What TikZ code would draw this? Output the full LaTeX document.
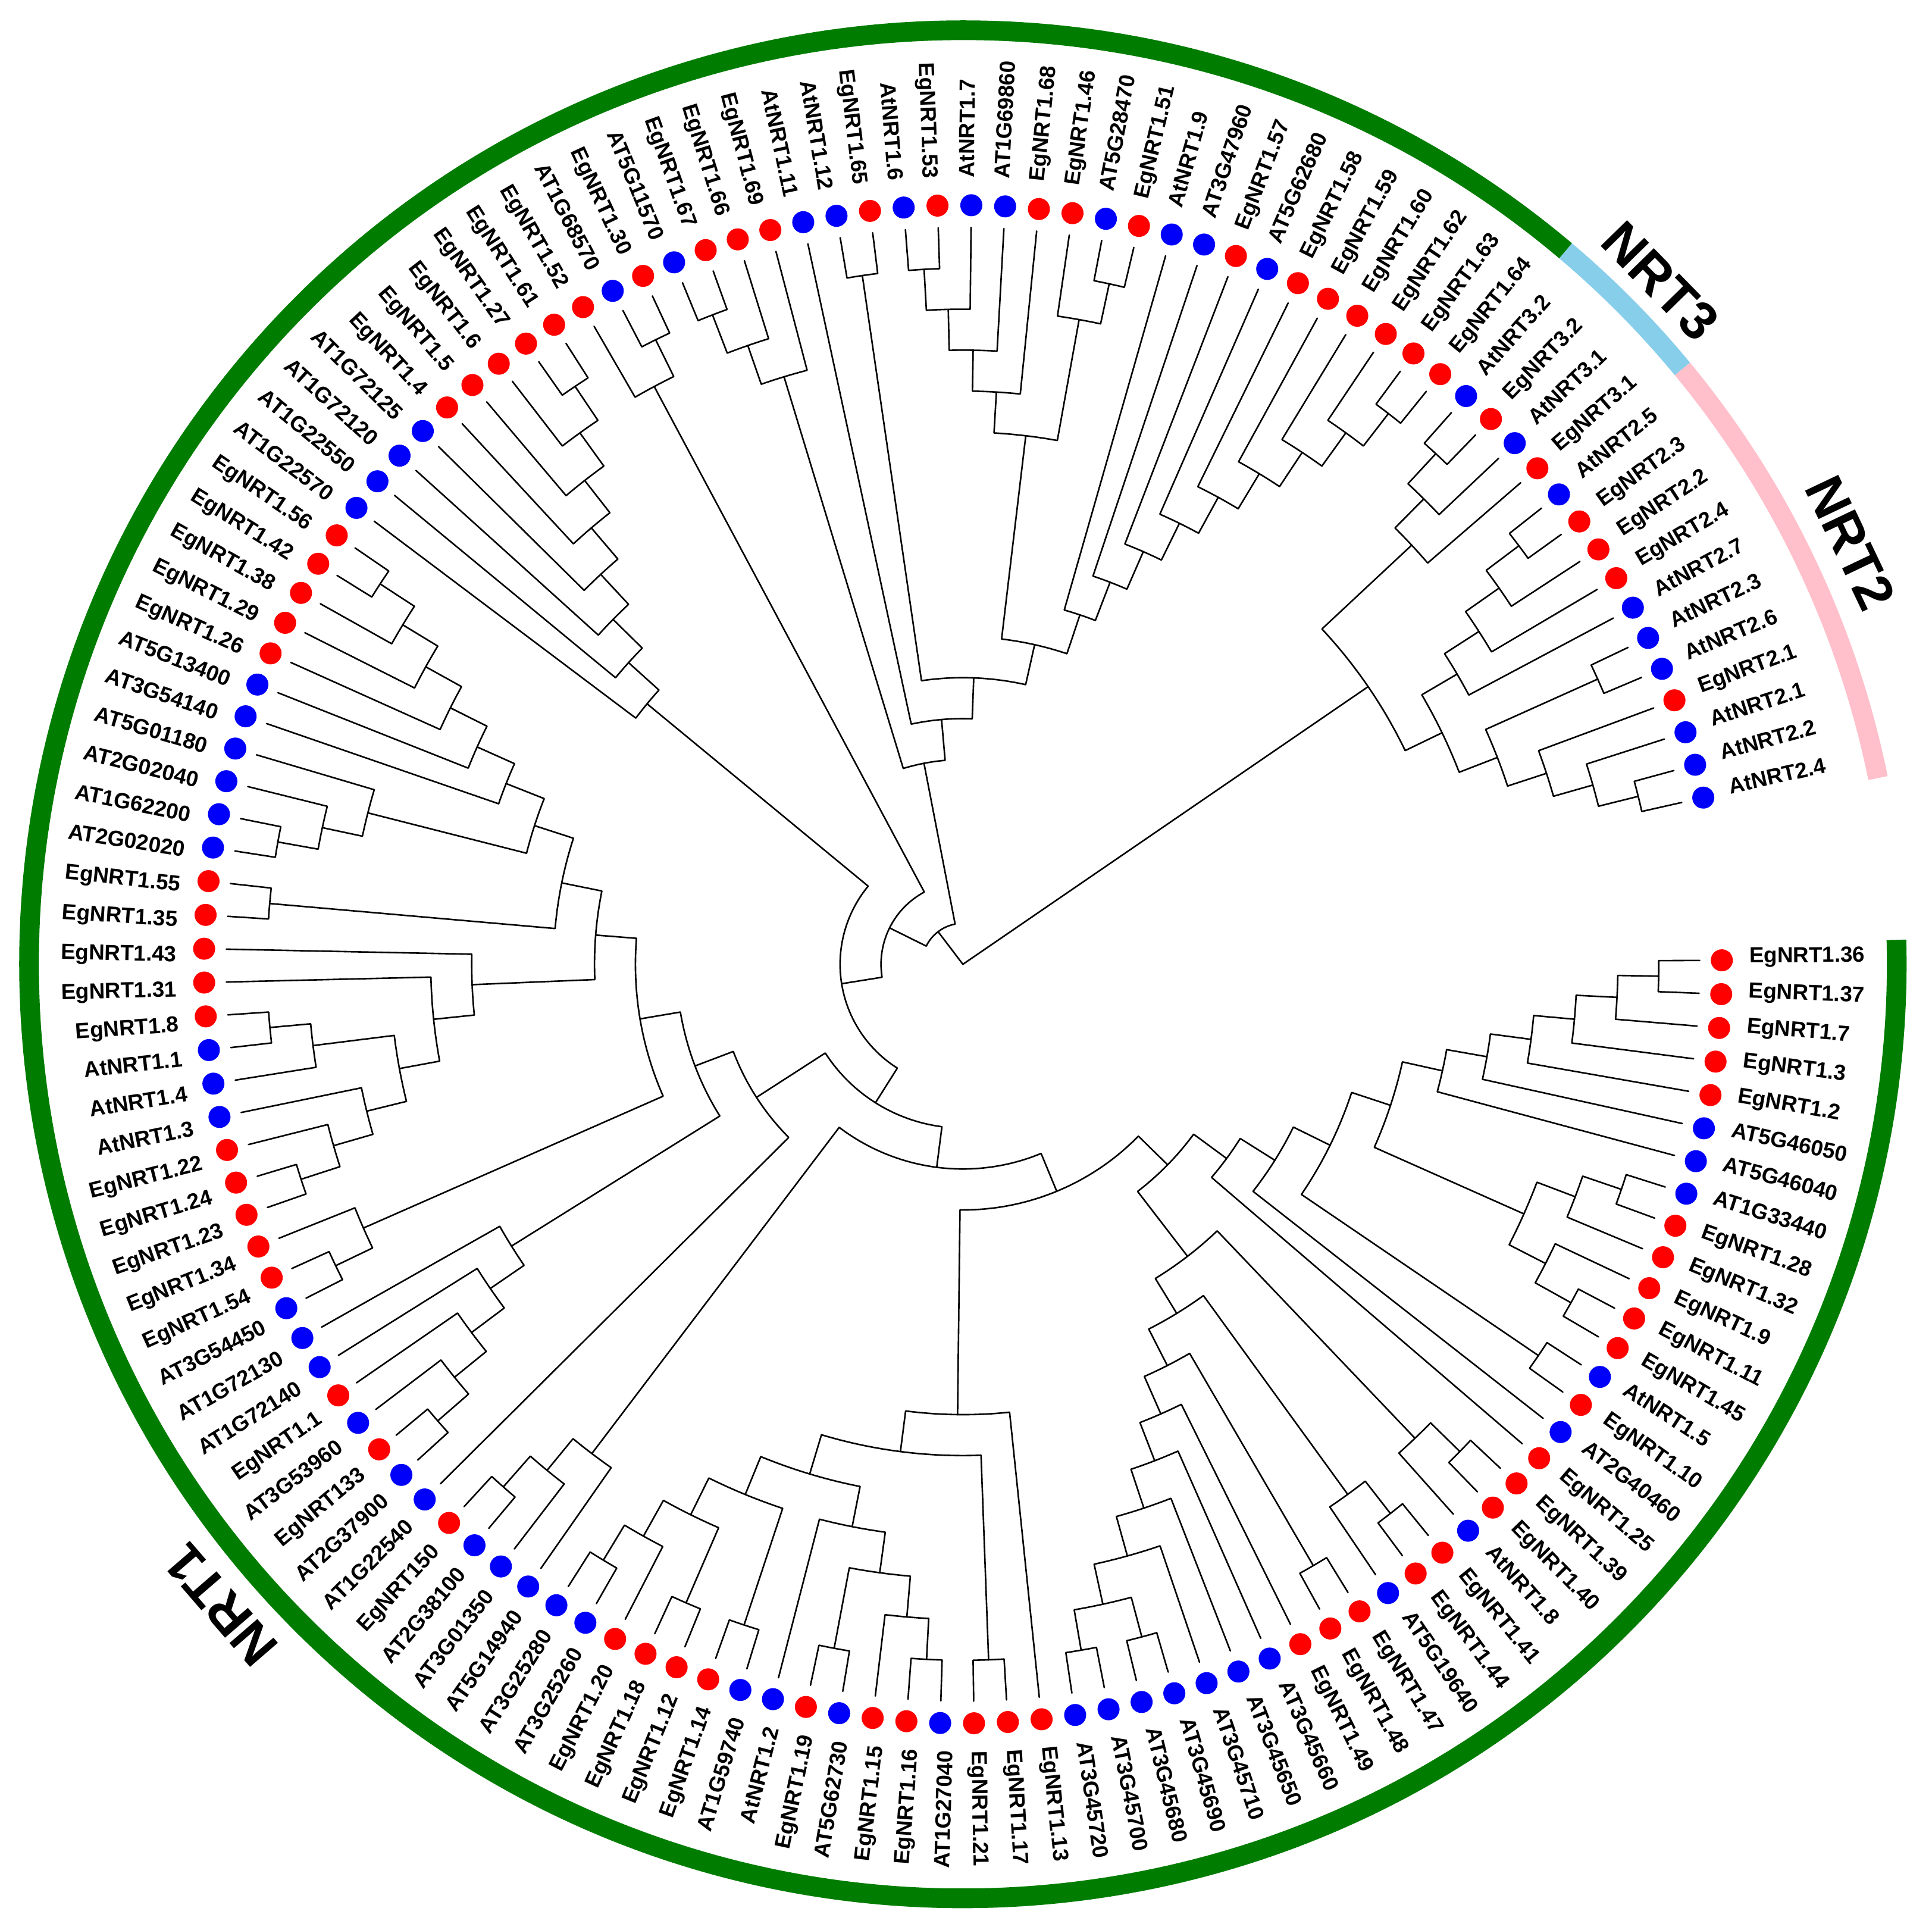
\documentclass[tikz,border=0pt]{standalone}
\usepackage{fontspec}
\setmainfont{Liberation Sans}
\definecolor{eg}{RGB}{255,0,0}
\definecolor{at}{RGB}{0,0,250}
\definecolor{ringgreen}{RGB}{0,125,0}
\definecolor{ringblue}{RGB}{135,206,235}
\definecolor{ringpink}{RGB}{255,192,203}
\tikzset{
  branch/.style={line width=0.65pt, black, line cap=round, line join=round},
  leafdot/.style={circle, draw=none, inner sep=0pt, minimum size=9.26pt},
  leaflab/.style={inner sep=0pt, text height=6.7pt, text depth=0pt, font=\fontsize{9.2}{11}\selectfont\bfseries},
  cladelab/.style={inner sep=0pt, text height=16pt, text depth=0pt, font=\fontsize{22.5}{27}\selectfont\bfseries},
  ring/.style={line width=8.28pt}
}
% tree node: #1 new name, #2 and #3 children
\newcommand\clade[3]{%
  \pgfmathsetmacro\cPa{\csname tpX#2\endcsname}%
  \pgfmathsetmacro\cPb{\csname tpX#3\endcsname}%
  \pgfmathsetmacro\cHa{\csname thX#2\endcsname}%
  \pgfmathsetmacro\cHb{\csname thX#3\endcsname}%
  \pgfmathsetmacro\cHn{max(\cHa,\cHb)+1}%
  \pgfmathsetmacro\cPn{(\cPa+\cPb)/2}%
  \expandafter\xdef\csname tpX#1\endcsname{\cPn}%
  \expandafter\xdef\csname thX#1\endcsname{\cHn}%
  \pgfmathsetmacro\cAa{0.3-(\cPa-1)*2.556}%
  \pgfmathsetmacro\cAb{0.3-(\cPb-1)*2.556}%
  \pgfmathsetmacro\cRn{309.6*(1-\cHn/18)}%
  \pgfmathsetmacro\cRa{309.6*(1-\cHa/18)}%
  \pgfmathsetmacro\cRb{309.6*(1-\cHb/18)}%
  \draw[branch] (\cAa:\cRa pt) -- (\cAa:\cRn pt) arc[start angle=\cAa, end angle=\cAb, radius=\cRn pt] -- (\cAb:\cRb pt);%
}
\newcommand\rootline[1]{%
  \pgfmathsetmacro\cPa{\csname tpX#1\endcsname}%
  \pgfmathsetmacro\cHa{\csname thX#1\endcsname}%
  \pgfmathsetmacro\cAa{0.3-(\cPa-1)*2.556}%
  \pgfmathsetmacro\cRa{309.6*(1-\cHa/18)}%
  \draw[branch] (0,0) -- (\cAa:\cRa pt);%
}
% leaf: #1 index, #2 text, #3 colour
\newcommand\leaf[3]{%
  \pgfmathsetmacro\lA{0.3-(#1-1)*2.556}%
  \pgfmathsetmacro\lB{\lA+0.4}%
  \pgfmathsetmacro\lN{mod(\lA+720,360)}%
  \node[leafdot,fill=#3] (d#1) at (\lA:318.9pt) {};%
  \pgfmathtruncatemacro\lT{((\lN<90)||(\lN>270))}%
  \ifnum\lT=1
    \node[leaflab,anchor=west,rotate=\lN] (t#1) at (\lB:330.3pt) {#2};%
  \else
    \pgfmathsetmacro\lR{\lN-180}%
    \node[leaflab,anchor=east,rotate=\lR] (t#1) at (\lB:330.3pt) {#2};%
  \fi
}
\begin{document}
\begin{tikzpicture}
\useasboundingbox (-404.6pt,-405.6pt) rectangle (407.2pt,405.1pt);
\fill[white] (-404.6pt,-405.6pt) rectangle (407.2pt,405.1pt);
% leaf data
\foreach \i in {1,...,137}{\expandafter\xdef\csname tpX\i\endcsname{\i}\expandafter\xdef\csname thX\i\endcsname{0}}
% ---- tree ----
\clade{A1}{1}{2}
\clade{A2}{A1}{3}
\clade{A3}{A2}{4}
\clade{A4}{A3}{5}
\clade{A5}{A4}{6}
\clade{A6}{A5}{7}
\clade{B1}{8}{9}
\clade{B2}{B1}{10}
\clade{B3}{12}{13}
\clade{B4}{11}{B3}
\clade{B5}{B2}{B4}
\clade{R7}{A6}{B5}
\clade{C1}{14}{15}
\clade{R8}{R7}{C1}
\clade{R9}{R8}{16}
\clade{R10}{R9}{17}
\clade{D1}{18}{19}
\clade{D2}{D1}{20}
\clade{g1}{21}{22}
\clade{g2}{g1}{23}
\clade{f1}{24}{25}
\clade{q1}{30}{31}
\clade{q2}{32}{33}
\clade{f2}{q1}{q2}
\clade{f3}{29}{f2}
\clade{f4}{28}{f3}
\clade{f5}{27}{f4}
\clade{f6}{26}{f5}
\clade{f7}{f1}{f6}
\clade{f8}{g2}{f7}
\clade{e9}{D2}{f8}
\clade{R11}{R10}{e9}
\clade{h9}{37}{38}
\clade{h8}{39}{h9}
\clade{h10}{40}{41}
\clade{h7}{h10}{h8}
\clade{h6}{42}{h7}
\clade{hy}{43}{44}
\clade{hz}{45}{46}
\clade{hw}{48}{49}
\clade{hv}{47}{hw}
\clade{hq}{hz}{hv}
\clade{hx}{hy}{hq}
\clade{h5}{hx}{h6}
\clade{h3}{35}{36}
\clade{h2}{h5}{h3}
\clade{h1}{h2}{34}
\clade{H}{h1}{R11}
\clade{gg1}{52}{53}
\clade{gg2}{51}{gg1}
\clade{gg3}{50}{gg2}
\clade{G}{gg3}{H}
\clade{m1}{55}{56}
\clade{m2}{57}{m1}
\clade{m3}{58}{m2}
\clade{m4}{59}{m3}
\clade{m5}{60}{m4}
\clade{n1}{61}{62}
\clade{n2}{63}{n1}
\clade{l1}{69}{70}
\clade{l2}{68}{l1}
\clade{l1b}{64}{65}
\clade{l2b}{66}{l1b}
\clade{l3}{67}{l2b}
\clade{l4}{l2}{l3}
\clade{l5}{71}{l4}
\clade{l6}{72}{l5}
\clade{k1}{75}{76}
\clade{k2}{77}{k1}
\clade{k3}{78}{k2}
\clade{j1}{84}{85}
\clade{j2}{83}{j1}
\clade{j3}{82}{j2}
\clade{j4}{81}{j3}
\clade{j5}{80}{j4}
\clade{j6}{79}{j5}
\clade{k7}{j6}{k3}
\clade{k73}{73}{74}
\clade{k8}{k7}{k73}
\clade{k9}{k8}{l6}
\clade{F2}{k9}{n2}
\clade{F1}{F2}{m5}
\clade{F}{F1}{54}
\clade{E}{F}{G}
\clade{w1}{93}{94}
\clade{w2}{92}{w1}
\clade{w3}{91}{w2}
\clade{w4}{90}{w3}
\clade{w5}{89}{w4}
\clade{w6}{88}{w5}
\clade{w7}{87}{w6}
\clade{w8}{86}{w7}
\clade{Dd}{w8}{E}
\clade{x1}{96}{97}
\clade{x2}{95}{x1}
\clade{Cc}{x2}{Dd}
\clade{t1}{98}{99}
\clade{t2}{t1}{100}
\clade{t3}{t2}{101}
\clade{u1}{105}{106}
\clade{u2}{u1}{107}
\clade{u3}{u2}{108}
\clade{u4}{u3}{109}
\clade{v1}{111}{112}
\clade{v2}{110}{v1}
\clade{u5}{u4}{v2}
\clade{s1}{121}{122}
\clade{s2}{120}{s1}
\clade{s3}{119}{s2}
\clade{s4}{118}{s3}
\clade{s5}{117}{s4}
\clade{s6}{116}{s5}
\clade{s7}{115}{s6}
\clade{s8}{114}{s7}
\clade{s9}{113}{s8}
\clade{t10}{u5}{s9}
\clade{y1}{103}{104}
\clade{t11}{y1}{t10}
\clade{t12}{102}{t11}
\clade{T}{t3}{t12}
\clade{Bb}{T}{Cc}
\clade{z1}{123}{124}
\clade{z2}{z1}{125}
\clade{z3}{z2}{126}
\clade{o1}{127}{128}
\clade{o2}{o1}{129}
\clade{o3}{o2}{130}
\clade{o4}{o3}{131}
\clade{p1}{136}{137}
\clade{p2}{135}{p1}
\clade{p3}{134}{p2}
\clade{p0}{132}{133}
\clade{p4}{p0}{p3}
\clade{o5}{o4}{p4}
\clade{N23}{z3}{o5}
\rootline{Bb}
\rootline{N23}
% ---- leaves ----
\leaf{1}{EgNRT1.36}{eg}
\leaf{2}{EgNRT1.37}{eg}
\leaf{3}{EgNRT1.7}{eg}
\leaf{4}{EgNRT1.3}{eg}
\leaf{5}{EgNRT1.2}{eg}
\leaf{6}{AT5G46050}{at}
\leaf{7}{AT5G46040}{at}
\leaf{8}{AT1G33440}{at}
\leaf{9}{EgNRT1.28}{eg}
\leaf{10}{EgNRT1.32}{eg}
\leaf{11}{EgNRT1.9}{eg}
\leaf{12}{EgNRT1.11}{eg}
\leaf{13}{EgNRT1.45}{eg}
\leaf{14}{AtNRT1.5}{at}
\leaf{15}{EgNRT1.10}{eg}
\leaf{16}{AT2G40460}{at}
\leaf{17}{EgNRT1.25}{eg}
\leaf{18}{EgNRT1.39}{eg}
\leaf{19}{EgNRT1.40}{eg}
\leaf{20}{AtNRT1.8}{at}
\leaf{21}{EgNRT1.41}{eg}
\leaf{22}{EgNRT1.44}{eg}
\leaf{23}{AT5G19640}{at}
\leaf{24}{EgNRT1.47}{eg}
\leaf{25}{EgNRT1.48}{eg}
\leaf{26}{EgNRT1.49}{eg}
\leaf{27}{AT3G45660}{at}
\leaf{28}{AT3G45650}{at}
\leaf{29}{AT3G45710}{at}
\leaf{30}{AT3G45690}{at}
\leaf{31}{AT3G45680}{at}
\leaf{32}{AT3G45700}{at}
\leaf{33}{AT3G45720}{at}
\leaf{34}{EgNRT1.13}{eg}
\leaf{35}{EgNRT1.17}{eg}
\leaf{36}{EgNRT1.21}{eg}
\leaf{37}{AT1G27040}{at}
\leaf{38}{EgNRT1.16}{eg}
\leaf{39}{EgNRT1.15}{eg}
\leaf{40}{AT5G62730}{at}
\leaf{41}{EgNRT1.19}{eg}
\leaf{42}{AtNRT1.2}{at}
\leaf{43}{AT1G59740}{at}
\leaf{44}{EgNRT1.14}{eg}
\leaf{45}{EgNRT1.12}{eg}
\leaf{46}{EgNRT1.18}{eg}
\leaf{47}{EgNRT1.20}{eg}
\leaf{48}{AT3G25260}{at}
\leaf{49}{AT3G25280}{at}
\leaf{50}{AT5G14940}{at}
\leaf{51}{AT3G01350}{at}
\leaf{52}{AT2G38100}{at}
\leaf{53}{EgNRT150}{eg}
\leaf{54}{AT1G22540}{at}
\leaf{55}{AT2G37900}{at}
\leaf{56}{EgNRT133}{eg}
\leaf{57}{AT3G53960}{at}
\leaf{58}{EgNRT1.1}{eg}
\leaf{59}{AT1G72140}{at}
\leaf{60}{AT1G72130}{at}
\leaf{61}{AT3G54450}{at}
\leaf{62}{EgNRT1.54}{eg}
\leaf{63}{EgNRT1.34}{eg}
\leaf{64}{EgNRT1.23}{eg}
\leaf{65}{EgNRT1.24}{eg}
\leaf{66}{EgNRT1.22}{eg}
\leaf{67}{AtNRT1.3}{at}
\leaf{68}{AtNRT1.4}{at}
\leaf{69}{AtNRT1.1}{at}
\leaf{70}{EgNRT1.8}{eg}
\leaf{71}{EgNRT1.31}{eg}
\leaf{72}{EgNRT1.43}{eg}
\leaf{73}{EgNRT1.35}{eg}
\leaf{74}{EgNRT1.55}{eg}
\leaf{75}{AT2G02020}{at}
\leaf{76}{AT1G62200}{at}
\leaf{77}{AT2G02040}{at}
\leaf{78}{AT5G01180}{at}
\leaf{79}{AT3G54140}{at}
\leaf{80}{AT5G13400}{at}
\leaf{81}{EgNRT1.26}{eg}
\leaf{82}{EgNRT1.29}{eg}
\leaf{83}{EgNRT1.38}{eg}
\leaf{84}{EgNRT1.42}{eg}
\leaf{85}{EgNRT1.56}{eg}
\leaf{86}{AT1G22570}{at}
\leaf{87}{AT1G22550}{at}
\leaf{88}{AT1G72120}{at}
\leaf{89}{AT1G72125}{at}
\leaf{90}{EgNRT1.4}{eg}
\leaf{91}{EgNRT1.5}{eg}
\leaf{92}{EgNRT1.6}{eg}
\leaf{93}{EgNRT1.27}{eg}
\leaf{94}{EgNRT1.61}{eg}
\leaf{95}{EgNRT1.52}{eg}
\leaf{96}{AT1G68570}{at}
\leaf{97}{EgNRT1.30}{eg}
\leaf{98}{AT5G11570}{at}
\leaf{99}{EgNRT1.67}{eg}
\leaf{100}{EgNRT1.66}{eg}
\leaf{101}{EgNRT1.69}{eg}
\leaf{102}{AtNRT1.11}{at}
\leaf{103}{AtNRT1.12}{at}
\leaf{104}{EgNRT1.65}{eg}
\leaf{105}{AtNRT1.6}{at}
\leaf{106}{EgNRT1.53}{eg}
\leaf{107}{AtNRT1.7}{at}
\leaf{108}{AT1G69860}{at}
\leaf{109}{EgNRT1.68}{eg}
\leaf{110}{EgNRT1.46}{eg}
\leaf{111}{AT5G28470}{at}
\leaf{112}{EgNRT1.51}{eg}
\leaf{113}{AtNRT1.9}{at}
\leaf{114}{AT3G47960}{at}
\leaf{115}{EgNRT1.57}{eg}
\leaf{116}{AT5G62680}{at}
\leaf{117}{EgNRT1.58}{eg}
\leaf{118}{EgNRT1.59}{eg}
\leaf{119}{EgNRT1.60}{eg}
\leaf{120}{EgNRT1.62}{eg}
\leaf{121}{EgNRT1.63}{eg}
\leaf{122}{EgNRT1.64}{eg}
\leaf{123}{AtNRT3.2}{at}
\leaf{124}{EgNRT3.2}{eg}
\leaf{125}{AtNRT3.1}{at}
\leaf{126}{EgNRT3.1}{eg}
\leaf{127}{AtNRT2.5}{at}
\leaf{128}{EgNRT2.3}{eg}
\leaf{129}{EgNRT2.2}{eg}
\leaf{130}{EgNRT2.4}{eg}
\leaf{131}{AtNRT2.7}{at}
\leaf{132}{AtNRT2.3}{at}
\leaf{133}{AtNRT2.6}{at}
\leaf{134}{EgNRT2.1}{eg}
\leaf{135}{AtNRT2.1}{at}
\leaf{136}{AtNRT2.2}{at}
\leaf{137}{AtNRT2.4}{at}
% ---- outer ring ----
\draw[ring, ringgreen] (49.8:392.4pt) arc[start angle=49.8, end angle=361.5, radius=392.4pt];
\draw[ring, ringblue] (49.8:392.4pt) arc[start angle=49.8, end angle=39.6, radius=392.4pt];
\draw[ring, ringpink] (39.6:392.4pt) arc[start angle=39.6, end angle=11.5, radius=392.4pt];
\node[cladelab, rotate=-45.6] (lab3) at (44.4:410.5pt) {NRT3};
\node[cladelab, rotate=-64.6] (lab2) at (25.4:413.1pt) {NRT2};
\node[cladelab, rotate=130.8] (lab1) at (220.8:412.1pt) {NRT1};
\end{tikzpicture}
\end{document}
